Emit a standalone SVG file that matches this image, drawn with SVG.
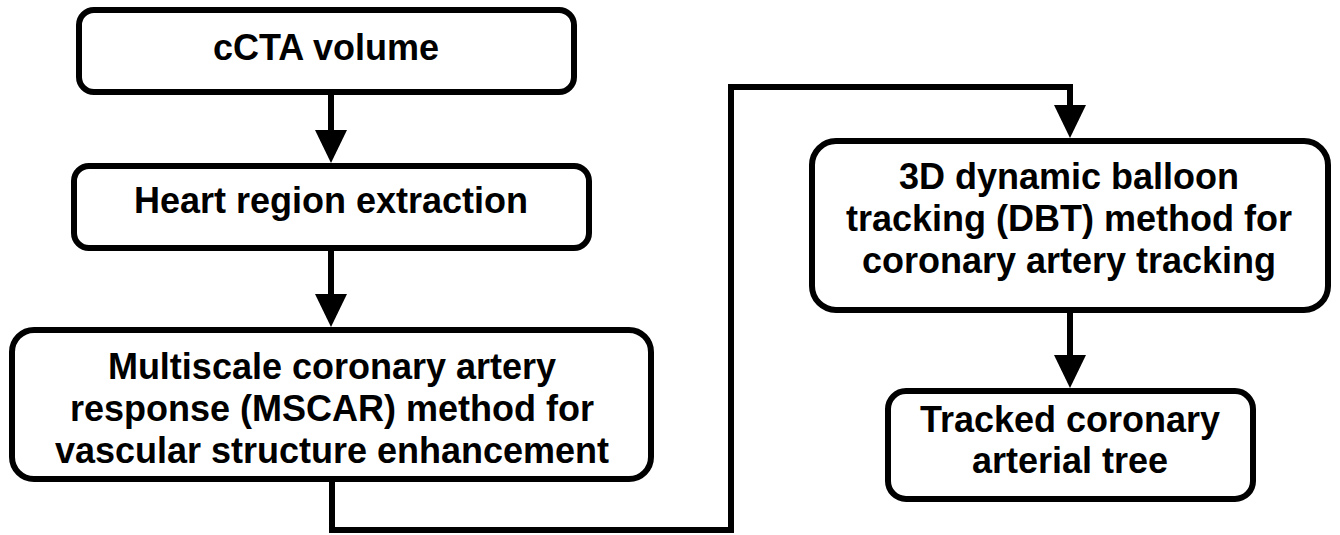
<svg xmlns="http://www.w3.org/2000/svg" width="1340" height="535" viewBox="0 0 1340 535">
<style>
.box{fill:#fff;stroke:#000;stroke-width:6}
.lbl{font-family:"Liberation Sans",Arial,sans-serif;font-weight:bold;font-size:36px;fill:#000;text-anchor:middle}
.conn{fill:none;stroke:#000;stroke-width:6}
</style>
<defs>
<marker id="ah" markerUnits="userSpaceOnUse" markerWidth="34" markerHeight="34" refX="0" refY="16" orient="auto" viewBox="0 0 34 32">
<path d="M0,0 L33,16 L0,32 Z" fill="#000"/>
</marker>
</defs>
<rect width="1340" height="535" fill="#fff"/>
<g id="connectors">
<path class="conn" d="M331,92 V130" marker-end="url(#ah)"/>
<path class="conn" d="M331,248 V294" marker-end="url(#ah)"/>
<path class="conn" d="M332,479 V530 H731 V87 H1070 V105" marker-end="url(#ah)"/>
<path class="conn" d="M1070,310 V355" marker-end="url(#ah)"/>
</g>
<g id="n1">
<rect class="box" x="79" y="10" width="495" height="82" rx="15"/>
<text class="lbl" x="326" y="60">cCTA volume</text>
</g>
<g id="n2">
<rect class="box" x="74" y="166" width="515" height="82" rx="15"/>
<text class="lbl" x="331" y="213">Heart region extraction</text>
</g>
<g id="n3">
<rect class="box" x="12" y="330" width="639" height="149" rx="22"/>
<text class="lbl" x="332" y="379">Multiscale coronary artery</text>
<text class="lbl" x="332" y="421">response (MSCAR) method for</text>
<text class="lbl" x="332" y="463">vascular structure enhancement</text>
</g>
<g id="n4">
<rect class="box" x="812" y="141" width="516" height="169" rx="24"/>
<text class="lbl" x="1069" y="189">3D dynamic balloon</text>
<text class="lbl" x="1069" y="231">tracking (DBT) method for</text>
<text class="lbl" x="1069" y="273">coronary artery tracking</text>
</g>
<g id="n5">
<rect class="box" x="888" y="391" width="365" height="108" rx="18"/>
<text class="lbl" x="1070" y="432">Tracked coronary</text>
<text class="lbl" x="1070" y="473">arterial tree</text>
</g>
</svg>
